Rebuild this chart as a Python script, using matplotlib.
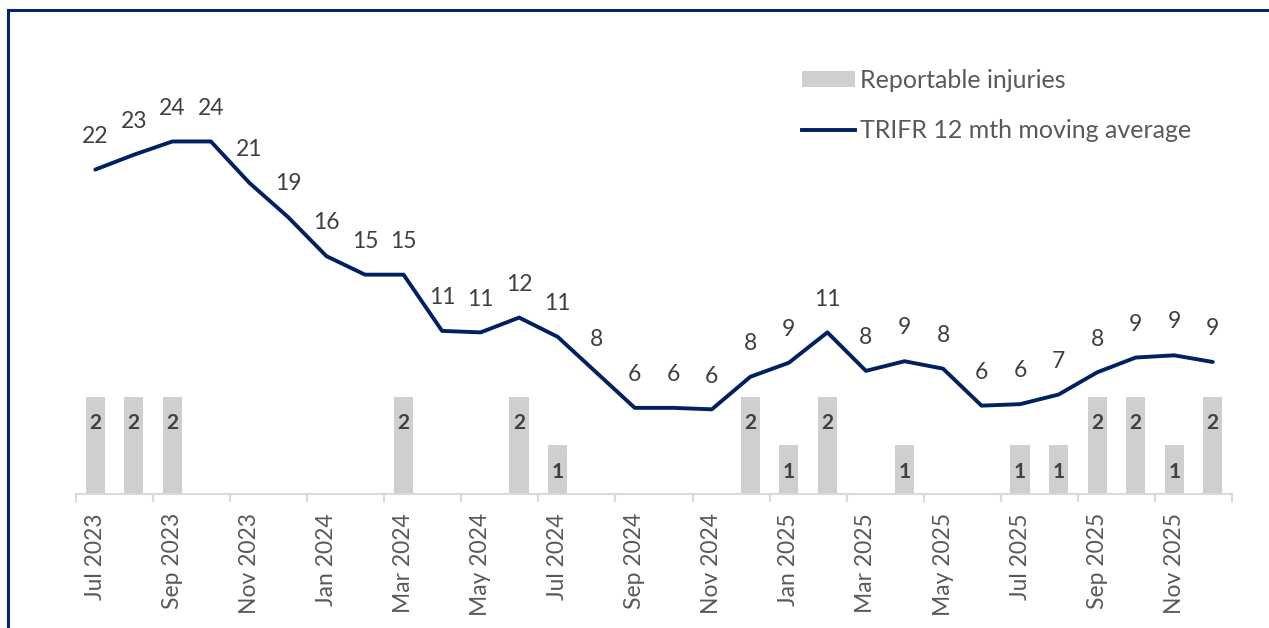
import matplotlib
matplotlib.use("Agg")
import matplotlib.pyplot as plt
from matplotlib.lines import Line2D
from matplotlib.patches import Patch
import numpy as np

months = ["Jul 2023", "Aug 2023", "Sep 2023", "Oct 2023", "Nov 2023", "Dec 2023",
          "Jan 2024", "Feb 2024", "Mar 2024", "Apr 2024", "May 2024", "Jun 2024",
          "Jul 2024", "Aug 2024", "Sep 2024", "Oct 2024", "Nov 2024", "Dec 2024",
          "Jan 2025", "Feb 2025", "Mar 2025", "Apr 2025", "May 2025", "Jun 2025",
          "Jul 2025", "Aug 2025", "Sep 2025", "Oct 2025", "Nov 2025", "Dec 2025"]

injuries = [2, 2, 2, 0, 0, 0, 0, 0, 2, 0, 0, 2, 1, 0, 0, 0, 0, 2, 1, 2,
            0, 1, 0, 0, 1, 1, 2, 2, 1, 2]

trifr = [21.9, 22.9, 23.8, 23.8, 21.0, 18.7, 16.05, 14.8, 14.8, 11.0,
         10.9, 11.9, 10.6, 8.2, 5.8, 5.8, 5.7, 7.9, 8.85, 10.9,
         8.3, 8.95, 8.45, 5.95, 6.05, 6.7, 8.2, 9.2, 9.35, 8.9]

W, H = 1269, 628
fig = plt.figure(figsize=(W / 100, H / 100), dpi=100)
FONT = "Lato"
plt.rcParams["font.family"] = [FONT, "DejaVu Sans"]

x0, x1 = 76, 1232
ybase, ytop = 493.7, 50
ax = fig.add_axes([x0 / W, 1 - ybase / H, (x1 - x0) / W, (ybase - ytop) / H])
ax2 = ax.twinx()

x = np.arange(len(months))
bar_color = "#D0CECE"
line_color = "#002060"
lab_color = "#404040"
axis_text = "#595959"

bars = ax.bar(x, injuries, width=0.5, color=bar_color, zorder=2)
ax.set_xlim(-0.5, len(months) - 0.5)
ax.set_ylim(0, (ybase - ytop) / 48.5)
ax2.set_ylim(0, (ybase - ytop) / 14.8)

for xi, v in zip(x, injuries):
    if v > 0:
        ax.annotate(f"{v}", (xi, v), xytext=(0, -19), textcoords="offset points",
                    ha="center", va="center", fontsize=15, fontweight="bold",
                    color=lab_color)

ax2.plot(x, trifr, color=line_color, lw=2.8, solid_joinstyle="round",
         solid_capstyle="round", zorder=3)
for xi, v in zip(x, trifr):
    ax2.annotate(f"{int(np.floor(v + 0.5))}", (xi, v), xytext=(0, 24),
                 textcoords="offset points", ha="center", va="center",
                 fontsize=16.5, color=lab_color)

for a in (ax, ax2):
    for s in ("top", "right", "left"):
        a.spines[s].set_visible(False)
    a.set_yticks([])
ax.spines["bottom"].set_color("#D9D9D9")
ax.spines["bottom"].set_linewidth(1.5)
ax2.spines["bottom"].set_visible(False)

ax.set_xticks(x[::2])
ax.set_xticklabels(months[::2], rotation=90, fontsize=16.5, color=axis_text)
ax.tick_params(axis="x", which="major", length=0, pad=14)
ax.set_xticks(np.arange(-0.5, len(months), 2), minor=True)
ax.tick_params(axis="x", which="minor", length=6, width=1.5, color="#D9D9D9")

handles = [Patch(facecolor=bar_color, edgecolor="none"),
           Line2D([0], [0], color=line_color, lw=2.8)]
leg = fig.legend(handles, ["Reportable injuries", "TRIFR 12 mth moving average"],
                 loc="upper left", bbox_to_anchor=(802 / W, 1 - 69 / H),
                 frameon=False, fontsize=18, handlelength=2.1, handleheight=0.6,
                 handletextpad=0.2, labelspacing=1.1, borderaxespad=0,
                 borderpad=0)
for t in leg.get_texts():
    t.set_color(axis_text)

border = "#002776"
fig.add_artist(Line2D([8 / W, 1.0], [1 - 10 / H, 1 - 10 / H], color=border, lw=2.2,
                      transform=fig.transFigure))
fig.add_artist(Line2D([8 / W, 8 / W], [1 - 10 / H, 0], color=border, lw=2.2,
                      transform=fig.transFigure))

fig.savefig("out.png", dpi=100)
